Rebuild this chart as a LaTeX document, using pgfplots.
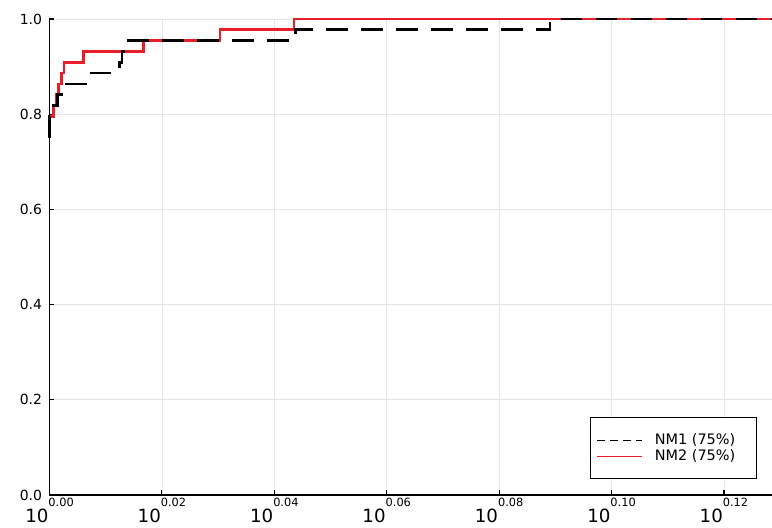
\documentclass[border=0pt]{standalone}
\usepackage{fontspec}
\setmainfont{DejaVu Sans}
\usepackage{pgfplots}
\pgfplotsset{compat=1.18}

\definecolor{nmred}{RGB}{232,30,40}
\definecolor{gridgray}{RGB}{228,228,228}

% tick label of the form 10^{e} set in the text font
\newcommand{\xtl}[1]{\fontsize{18.3}{20}\selectfont 10\raisebox{16bp}{\fontsize{11.4}{12}\selectfont #1}}

\begin{document}
\begin{tikzpicture}
\begin{axis}[
  name=ax,
  scale only axis,
  width=722.5bp, height=476bp,
  xmin=0, xmax=0.12855, ymin=0, ymax=1,
  axis lines*=left,
  axis line style={line width=1.1bp, black},
  clip=false,
  xtick={0,0.02,0.04,0.06,0.08,0.10,0.12},
  xticklabels={\xtl{0.00},\xtl{0.02},\xtl{0.04},\xtl{0.06},\xtl{0.08},\xtl{0.10},\xtl{0.12}},
  ytick={0,0.2,0.4,0.6,0.8,1.0},
  yticklabels={0.0,0.2,0.4,0.6,0.8,1.0},
  yticklabel style={font=\fontsize{14}{16}\selectfont, xshift=-4bp},
  xticklabel style={yshift=0bp},
  tick align=inside,
  major tick length=5bp,
  tick style={line width=1.1bp, black},
  grid=major,
  major grid style={line width=0.8bp, gridgray},
  legend cell align=left,
  legend style={at={(0.9788,0.033)}, anchor=south east, draw=black, line width=0.8bp,
    font=\fontsize{14.5}{16}\selectfont, inner xsep=6bp, inner ysep=15.5bp,
    row sep=1.5bp, column sep=11bp,
    nodes={inner xsep=1bp, inner ysep=1bp}},
  legend image code/.code={\draw[#1, line width=1bp] (0bp,0bp) -- (45bp,0bp);},
]
\addlegendimage{black, dash pattern=on 8bp off 5bp}
\addlegendentry{NM1 (75\%)\hspace*{14bp}\mbox{}}
\addlegendimage{nmred}
\addlegendentry{NM2 (75\%)\hspace*{14bp}\mbox{}}

% NM2 profile
\addplot[nmred, line width=2.6bp, const plot mark left, forget plot] coordinates {
  (0,0.7955) (0.00068,0.8182) (0.00128,0.8409) (0.00157,0.8636) (0.00217,0.8864)
  (0.00258,0.9091) (0.00601,0.9318) (0.01669,0.9545) (0.03033,0.9773)
  (0.04350,1.0) (0.12855,1.0)
};
% NM1 profile
\addplot[black, line width=2.8bp, dash pattern=on 21.7bp off 13.3bp, const plot mark left, forget plot] coordinates {
  (0,0.75) (0,0.7955) (0.00068,0.8182) (0.00139,0.8409) (0.00258,0.8636)
  (0.00685,0.8864) (0.01246,0.9091) (0.01290,0.9318) (0.01361,0.9545)
  (0.04377,0.9773) (0.08906,1.0) (0.12855,1.0)
};
\end{axis}
\pgfresetboundingbox
\path[use as bounding box] ([xshift=-49.5bp,yshift=-33bp]ax.south west) rectangle ([yshift=19bp]ax.north east);
\end{tikzpicture}
\end{document}
